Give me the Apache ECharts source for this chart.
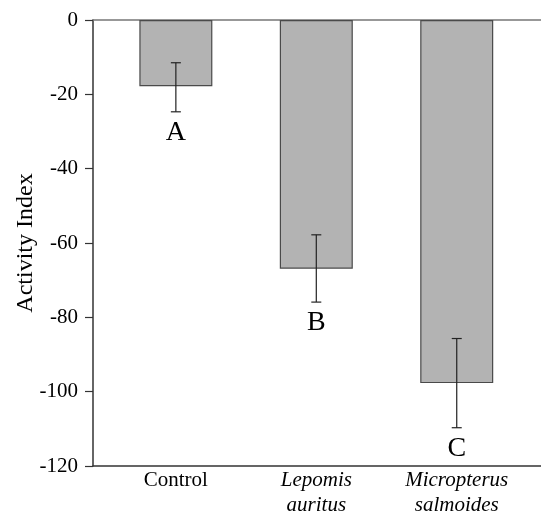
<!DOCTYPE html>
<html>
<head>
<meta charset="UTF-8">
<title>Activity Index</title>
<script src="https://cdn.jsdelivr.net/npm/echarts@6/dist/echarts.min.js"></script>
<style>
html, body { margin: 0; padding: 0; background: #fff; }
#chart { width: 541px; height: 514px; }
</style>
</head>
<body>
<div id="chart"></div>
<script>
// data
var groups = ['Control', 'Lepomis\nauritus', 'Micropterus\nsalmoides'];
var italic = [false, true, true];
var means = [-17.8, -66.9, -97.7];
var errTop = [-11.5, -57.8, -85.7];
var errBottom = [-24.7, -75.9, -109.7];
var letters = ['A', 'B', 'C'];

var serif = 'Liberation Serif';

var barData = [];
var errData = [];
for (var i = 0; i < groups.length; i++) {
    barData.push([i, means[i]]);
    errData.push([i, errTop[i], errBottom[i], letters[i]]);
}

var chart = echarts.init(document.getElementById('chart'));

var option = {
    animation: false,
    grid: { left: 93, right: 0, top: 20, bottom: 48, containLabel: false, outerBoundsMode: 'none' },
    xAxis: [
        {
            type: 'value', min: -0.59, max: 2.6, position: 'bottom',
            splitLine: { show: false },
            axisLine: { show: true, onZero: false, lineStyle: { color: '#333', width: 1.5 } },
            axisTick: { show: false },
            axisLabel: {
                customValues: [0, 1, 2],
                margin: 2,
                formatter: function (v) {
                    var k = Math.round(v);
                    var lines = groups[k].split('\n');
                    var tag = italic[k] ? 'i' : 'n';
                    return lines.map(function (s) { return '{' + tag + '|' + s + '}'; }).join('\n');
                },
                rich: {
                    n: { fontFamily: serif, fontSize: 21, color: '#000', lineHeight: 25 },
                    i: { fontFamily: serif, fontSize: 21, fontStyle: 'italic', color: '#000', lineHeight: 25 }
                }
            }
        },
        {
            type: 'value', min: -0.59, max: 2.6, position: 'top',
            splitLine: { show: false },
            axisLine: { show: true, onZero: false, lineStyle: { color: '#777', width: 1.5 } },
            axisTick: { show: false },
            axisLabel: { show: false }
        }
    ],
    yAxis: {
        type: 'value', min: -120, max: 0, interval: 20,
        name: 'Activity Index',
        nameLocation: 'middle',
        nameGap: 55,
        nameMoveOverlap: false,
        nameTextStyle: { fontFamily: serif, fontSize: 24, color: '#000' },
        splitLine: { show: false },
        axisLine: { show: true, onZero: false, lineStyle: { color: '#333', width: 1.5 } },
        axisTick: { show: true, length: 8, lineStyle: { color: '#333', width: 1.2 } },
        axisLabel: { fontFamily: serif, fontSize: 21, color: '#000', margin: 15 }
    },
    series: [
        {
            type: 'bar',
            data: barData,
            barWidth: 73,
            itemStyle: { color: '#b3b3b3', borderColor: '#4a4a4a', borderWidth: 1.2 }
        },
        {
            type: 'custom',
            data: errData,
            z: 5,
            renderItem: function (params, api) {
                var x = api.value(0);
                var top = api.coord([x, api.value(1)]);
                var bot = api.coord([x, api.value(2)]);
                var half = 5;
                var st = { stroke: '#222', lineWidth: 1.2 };
                return {
                    type: 'group',
                    children: [
                        { type: 'line', shape: { x1: top[0], y1: top[1], x2: bot[0], y2: bot[1] }, style: st },
                        { type: 'line', shape: { x1: top[0] - half, y1: top[1], x2: top[0] + half, y2: top[1] }, style: st },
                        { type: 'line', shape: { x1: bot[0] - half, y1: bot[1], x2: bot[0] + half, y2: bot[1] }, style: st },
                        {
                            type: 'text',
                            style: {
                                x: bot[0], y: bot[1] + 21,
                                text: api.value(3),
                                font: '28px "Liberation Serif"',
                                fill: '#000',
                                align: 'center',
                                verticalAlign: 'middle'
                            }
                        }
                    ]
                };
            }
        }
    ]
};

chart.setOption(option);
</script>
</body>
</html>
